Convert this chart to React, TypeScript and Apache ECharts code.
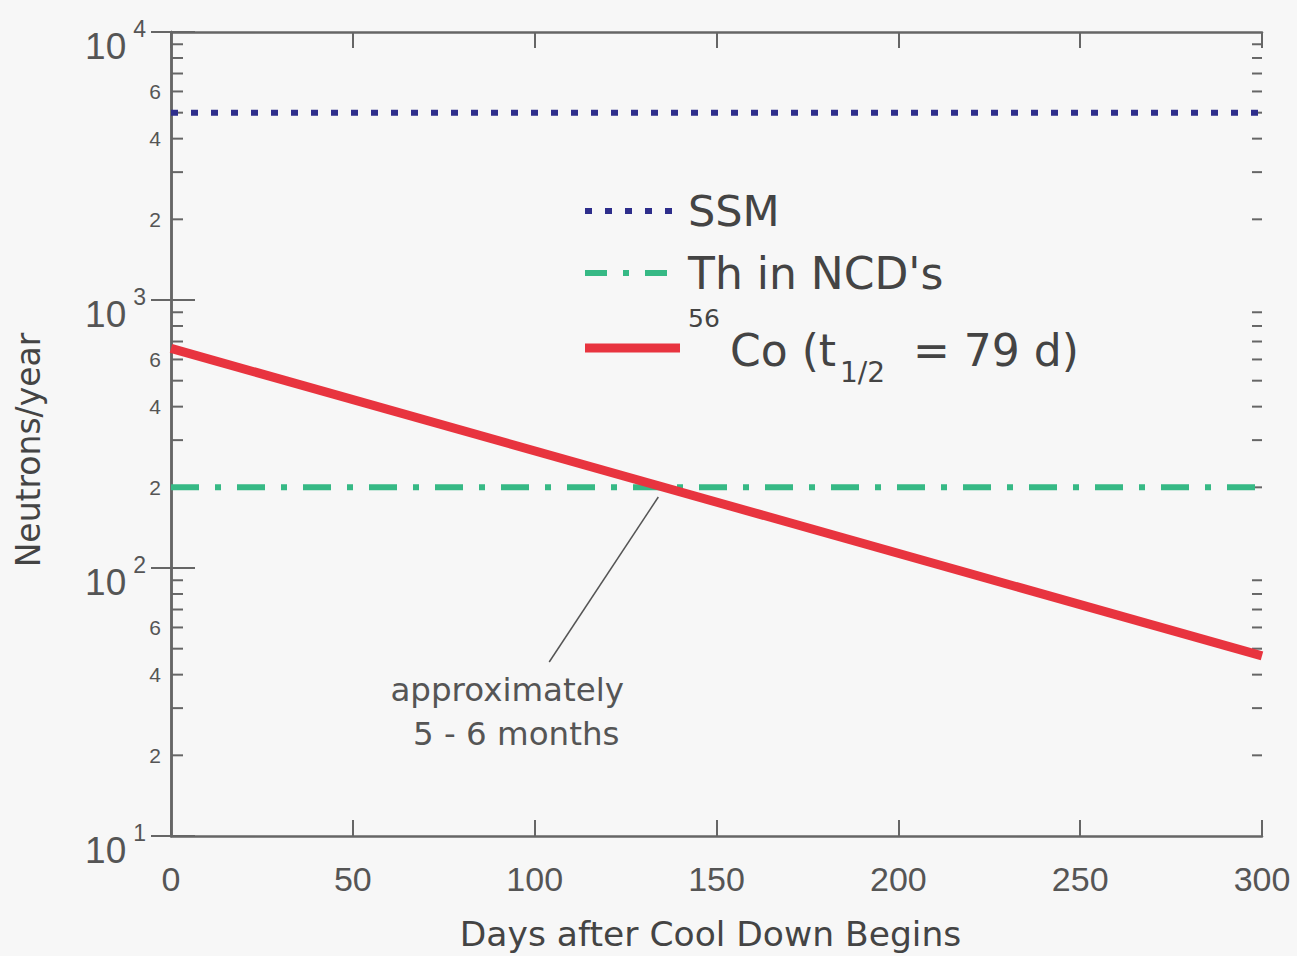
import React, { useEffect, useRef } from "react";
import * as echarts from "echarts";

const days = [0, 300];
const ssmValues = [5000, 5000];
const thValues = [200, 200];
const coValues = [660, 47];
const annotationX = [134, 104];
const annotationY = [184, 44.6];
const decades = [10, 100, 1000];
const minorMultipliers = [2, 3, 4, 5, 6, 7, 8, 9];
const labeledMinors = [2, 4, 6];

const TXT = "#444";
const AX = "#666";
const NUMFONT = "'Liberation Sans', Arial, sans-serif";
const FONT = "'DejaVu Sans', sans-serif";

export default function App() {
  const ref = useRef<HTMLDivElement>(null);
  useEffect(() => {
    if (!ref.current) return;
    const chart = echarts.init(ref.current, undefined, { renderer: "svg" });
    const left = 171, right = 35, top = 32, bottom = 120;
    const option: any = {
      animation: false,
      backgroundColor: "#f7f7f7",
      grid: { left, right, top, bottom, containLabel: false, outerBoundsMode: "none" },
      xAxis: [
        {
          type: "value", min: 0, max: 300, interval: 50,
          name: "Days after Cool Down Begins", nameLocation: "middle", nameGap: 80,
          nameTextStyle: { fontFamily: FONT, fontSize: 34.5, color: TXT, padding: [0, 12, 0, 0] },
          axisLine: { show: true, lineStyle: { color: AX, width: 2.5 } },
          axisTick: { show: true, inside: true, length: 16, lineStyle: { color: AX, width: 2 } },
          axisLabel: { margin: 26, fontFamily: NUMFONT, fontSize: 34, color: "#555", showMinLabel: true, showMaxLabel: true },
          splitLine: { show: false },
        },
        {
          type: "value", min: 0, max: 300, interval: 50, position: "top",
          axisLine: { show: true, lineStyle: { color: AX, width: 2.5 } },
          axisTick: { show: true, inside: true, length: 16, lineStyle: { color: AX, width: 2 } },
          axisLabel: { show: false },
          splitLine: { show: false },
        },
      ],
      yAxis: [
        {
          type: "log", logBase: 10, min: 10, max: 10000,
          axisLine: { show: true, lineStyle: { color: AX, width: 2.5 } },
          axisTick: { show: true, inside: true, length: 24, lineStyle: { color: AX, width: 2 } },
          axisLabel: {
            margin: 25,
            formatter: (v: number) => `{b|10}{s|${Math.round(Math.log10(v))}}`,
            rich: {
              b: { fontFamily: NUMFONT, fontSize: 37, color: "#555", padding: [28, 0, 0, 0] },
              s: { fontFamily: NUMFONT, fontSize: 23, color: "#555", padding: [0, 0, 6, 7] },
            },
          },
          splitLine: { show: false },
        },
        {
          type: "log", logBase: 10, min: 10, max: 10000, position: "right",
          axisLine: { show: true, lineStyle: { color: AX, width: 2.5 } },
          axisTick: { show: true, inside: true, length: 20, lineStyle: { color: AX, width: 2 } },
          axisLabel: { show: false },
          splitLine: { show: false },
        },
      ],
      series: [
        {
          name: "SSM", type: "line", symbol: "none",
          data: days.map((d, i) => [d, ssmValues[i]]),
          lineStyle: { color: "#2e2e8c", width: 6, type: [7, 13], cap: "butt" },
        },
        {
          name: "Th in NCD's", type: "line", symbol: "none",
          data: days.map((d, i) => [d, thValues[i]]),
          lineStyle: { color: "#36b985", width: 6, type: [28, 16, 6, 16], cap: "butt" },
        },
        {
          name: "56Co", type: "line", symbol: "none",
          data: days.map((d, i) => [d, coValues[i]]),
          lineStyle: { color: "#e8343f", width: 9 },
        },
        {
          name: "annotation", type: "line", symbol: "none", silent: true,
          data: annotationX.map((d, i) => [d, annotationY[i]]),
          lineStyle: { color: "#555", width: 1.5 },
        },
      ],
    };
    chart.setOption(option);

    const gx = (v: number) => chart.convertToPixel({ xAxisIndex: 0 }, v) as number;
    const gy = (v: number) => chart.convertToPixel({ yAxisIndex: 0 }, v) as number;
    const xl = gx(0), xr = gx(300);
    const graphics: any[] = [];
    decades.forEach((d) => {
      minorMultipliers.forEach((m) => {
        const y = gy(d * m);
        graphics.push({ type: "line", shape: { x1: xl, y1: y, x2: xl + 12, y2: y }, style: { stroke: AX, lineWidth: 2 } });
        graphics.push({ type: "line", shape: { x1: xr - 10, y1: y, x2: xr, y2: y }, style: { stroke: AX, lineWidth: 2 } });
        if (labeledMinors.includes(m)) {
          graphics.push({
            type: "text", x: xl - 10, y,
            style: { text: String(m), fontFamily: NUMFONT, fontSize: 21, fill: "#555", align: "right", verticalAlign: "middle" },
          });
        }
      });
    });

    // Y axis name
    graphics.push({
      type: "text", x: 28, y: 450, rotation: Math.PI / 2,
      style: { text: "Neutrons/year", fontFamily: FONT, fontSize: 33, fill: TXT, align: "center", verticalAlign: "middle" },
    });

    // Legend
    const lx1 = 585, lx2 = 680, tx = 688;
    graphics.push({ type: "line", shape: { x1: lx1, y1: 211, x2: lx2, y2: 211 }, style: { stroke: "#2e2e8c", lineWidth: 6, lineDash: [7, 13] } });
    graphics.push({ type: "text", x: tx, y: 211, style: { text: "SSM", fontFamily: FONT, fontSize: 43, fill: TXT, verticalAlign: "middle" } });
    graphics.push({ type: "line", shape: { x1: lx1, y1: 273, x2: lx2, y2: 273 }, style: { stroke: "#36b985", lineWidth: 6, lineDash: [22, 16, 6, 16] } });
    graphics.push({ type: "text", x: tx, y: 273, style: { text: "Th in NCD's", fontFamily: FONT, fontSize: 44, fill: TXT, verticalAlign: "middle" } });
    graphics.push({ type: "line", shape: { x1: lx1, y1: 348, x2: lx2, y2: 348 }, style: { stroke: "#e8343f", lineWidth: 9 } });
    graphics.push({ type: "text", x: tx, y: 318, style: { text: "56", fontFamily: FONT, fontSize: 25, fill: TXT, verticalAlign: "middle" } });
    graphics.push({ type: "text", x: 730, y: 350, style: { text: "Co (t", fontFamily: FONT, fontSize: 44, fill: TXT, verticalAlign: "middle" } });
    graphics.push({ type: "text", x: 840, y: 372, style: { text: "1/2", fontFamily: FONT, fontSize: 28, fill: TXT, verticalAlign: "middle" } });
    graphics.push({ type: "text", x: 913, y: 350, style: { text: "= 79 d)", fontFamily: FONT, fontSize: 44, fill: TXT, verticalAlign: "middle" } });

    // Annotation text
    const ax = gx(annotationX[1]);
    const ay = gy(annotationY[1]);
    graphics.push({ type: "text", x: ax - 42, y: ay + 28, style: { text: "approximately", fontFamily: FONT, fontSize: 32.5, fill: "#555", align: "center", verticalAlign: "middle" } });
    graphics.push({ type: "text", x: ax - 33, y: ay + 72, style: { text: "5 - 6 months", fontFamily: FONT, fontSize: 32.5, fill: "#555", align: "center", verticalAlign: "middle" } });

    chart.setOption({ graphic: graphics });
    return () => chart.dispose();
  }, []);
  return <div ref={ref} style={{ position: "absolute", left: 0, top: 0, width: 1297, height: 956 }} />;
}
